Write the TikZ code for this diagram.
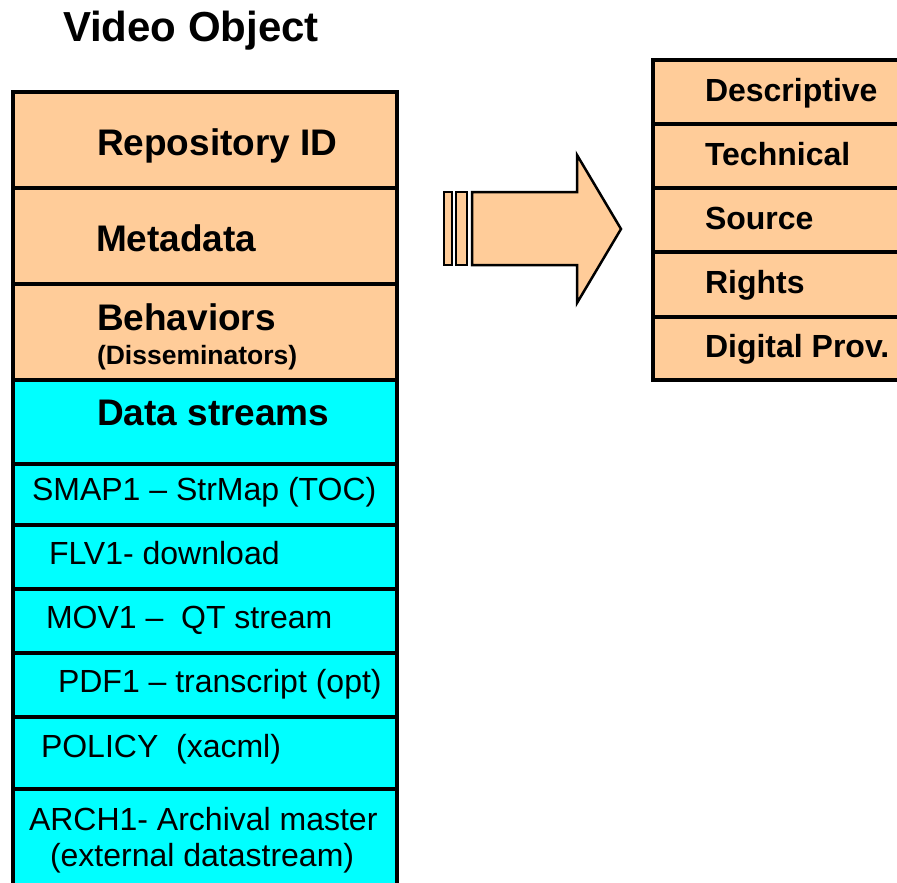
\documentclass[tikz,border=0pt]{standalone}
\usepackage{fontspec}
\setmainfont{Liberation Sans}
\definecolor{peach}{HTML}{FFCC99}
\definecolor{aqua}{HTML}{00FFFF}
\tikzset{
  cell/.style={draw=black, line width=4.5pt, inner sep=0pt, outer sep=0pt, anchor=north west},
  pcell/.style={cell, fill=peach},
  ccell/.style={cell, fill=aqua},
  lbl/.style={anchor=base west, inner sep=0pt, outer sep=0pt, text=black},
  headB/.style={lbl, font=\fontsize{37}{40}\selectfont\bfseries},
  subB/.style={lbl, font=\fontsize{26.5}{28}\selectfont\bfseries},
  regT/.style={lbl, font=\fontsize{32}{36}\selectfont},
  rightB/.style={lbl, font=\fontsize{32}{36}\selectfont\bfseries},
  arrowpart/.style={draw=black, fill=peach, line width=2.5pt, line join=miter}
}
\newcommand{\lcell}[4]{\node[#1, minimum width=384pt, minimum height=#3pt] (#2) at (13,#4) {};}
\newcommand{\rcell}[3]{\node[pcell, minimum width=260pt, minimum height=#2pt] (#1) at (653,#3) {};}
\begin{document}
\begin{tikzpicture}[x=1pt,y=-1pt]
\path[use as bounding box, clip] (0,0) rectangle (897,883);
\fill[white] (0,0) rectangle (897,883);
% title
\node[lbl, font=\fontsize{42}{46}\selectfont\bfseries] (title) at (63,42) {Video Object};
% left column
\lcell{pcell}{repo}{96}{92}
\lcell{pcell}{meta}{96}{188}
\lcell{pcell}{behav}{96}{284}
\lcell{ccell}{data}{84}{380}
\lcell{ccell}{smap}{61}{464}
\lcell{ccell}{flv}{64}{525}
\lcell{ccell}{mov}{64}{589}
\lcell{ccell}{pdf}{64}{653}
\lcell{ccell}{policy}{72}{717}
\lcell{ccell}{arch}{120}{789}
\node[headB] (trepo) at (97,155) {Repository ID};
\node[headB] (tmeta) at (96,251) {Metadata};
\node[headB] (tbehav) at (97,330) {Behaviors};
\node[subB] (tdiss) at (97,364) {(Disseminators)};
\node[headB] (tdata) at (97,425) {Data streams};
\node[regT] (tsmap) at (32,500) {SMAP1 – StrMap (TOC)};
\node[regT] (tflv) at (49,564) {FLV1- download};
\node[regT] (tmov) at (46,628) {MOV1 –\ \ QT stream};
\node[regT] (tpdf) at (58,692) {PDF1 – transcript (opt)};
\node[regT] (tpol) at (41,757) {POLICY\ \ (xacml)};
\node[regT] (tarch1) at (29,830) {ARCH1- Archival master};
\node[regT] (tarch2) at (50,866) {(external datastream)};
% right column
\rcell{desc}{64}{60}
\rcell{tech}{64}{124}
\rcell{src}{64}{188}
\rcell{rights}{65}{252}
\rcell{dprov}{63}{317}
\node[rightB] (tdesc) at (705,101) {Descriptive};
\node[rightB] (ttech) at (705,165) {Technical};
\node[rightB] (tsrc) at (705,229) {Source};
\node[rightB] (trights) at (705,293) {Rights};
\node[rightB] (tdprov) at (705,357) {Digital Prov.};
% striped block arrow
\draw[arrowpart] (444,192) rectangle (452,265);
\draw[arrowpart] (456,192) rectangle (467,265);
\draw[arrowpart] (472,192) -- (577,192) -- (577,155) -- (621,229) -- (577,303) -- (577,265) -- (472,265) -- cycle;
\end{tikzpicture}
\end{document}
